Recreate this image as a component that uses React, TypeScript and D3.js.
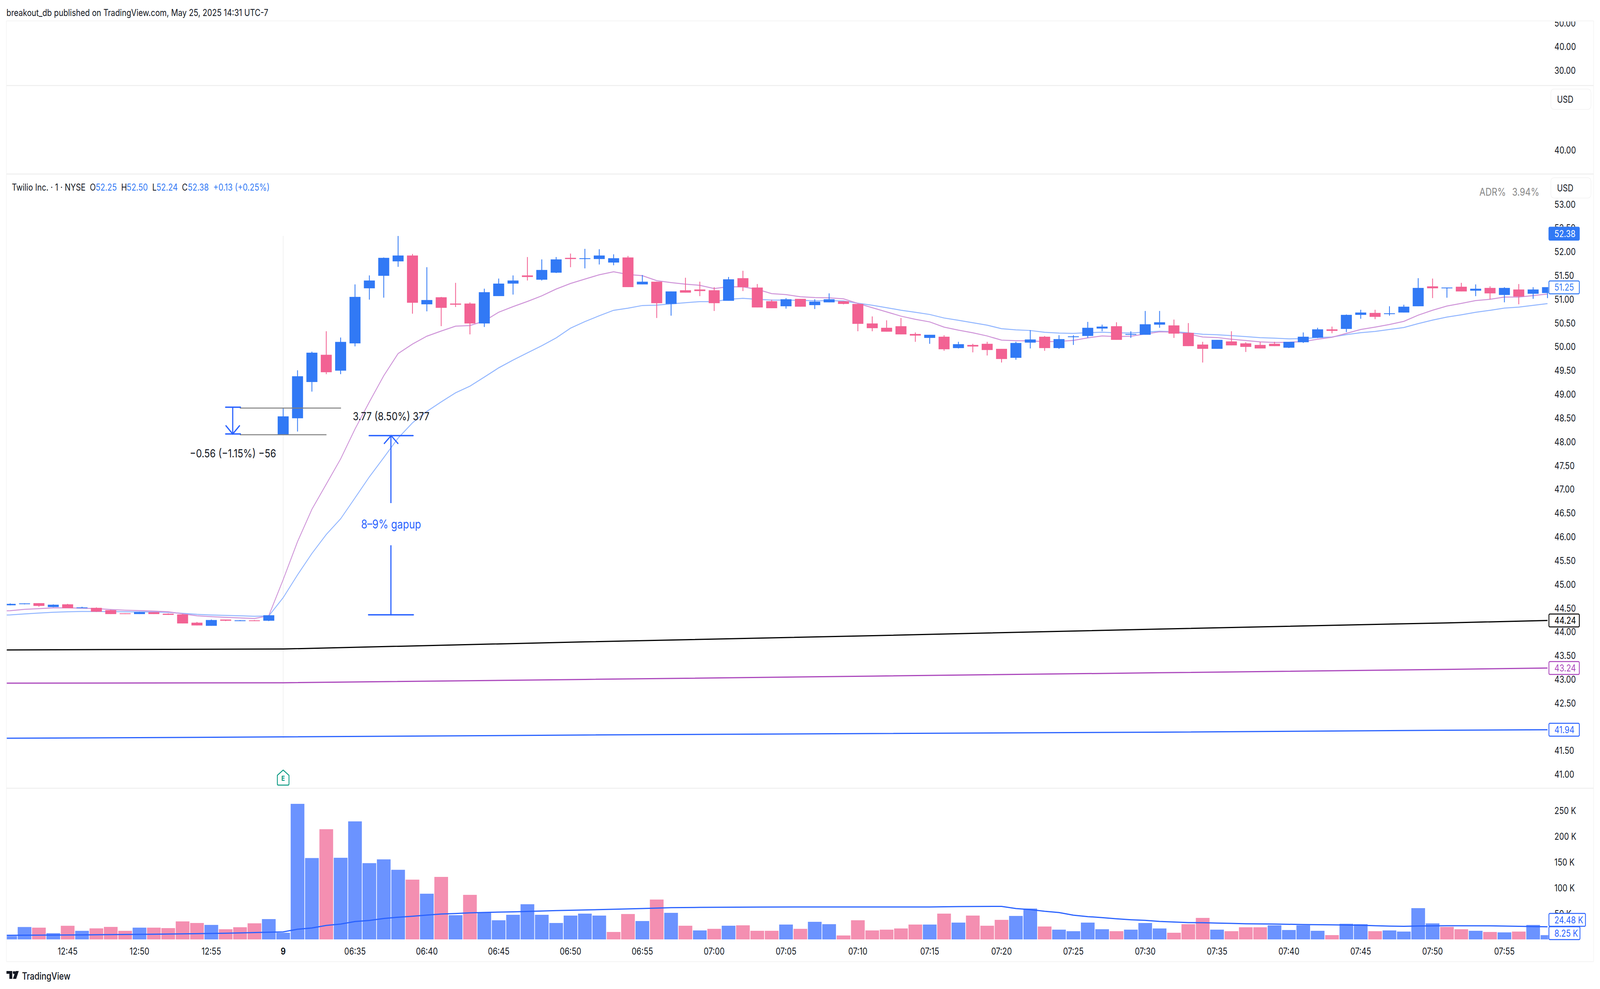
import React from 'react';
import * as d3 from 'd3';

// candles, left to right, one per minute
const opens = [44.56,44.59,44.605,44.523,44.58,44.5,44.506,44.457,44.391,44.375,44.416,44.383,44.367,44.194,44.128,44.26,44.227,44.243,44.235,48.151,48.496,49.259,49.832,49.498,50.072,51.231,51.494,51.798,51.921,50.894,51.042,50.91,50.91,50.491,51.067,51.33,51.502,51.412,51.56,51.872,51.847,51.847,51.773,51.88,51.313,51.37,50.902,51.19,51.206,51.19,50.968,51.444,51.247,50.959,50.853,51.009,50.877,50.935,50.959,50.902,50.491,50.4,50.433,50.269,50.187,50.212,49.973,50.039,50.063,49.957,49.768,50.088,50.212,49.973,50.203,50.228,50.384,50.433,50.253,50.253,50.466,50.45,50.294,50.047,49.957,50.113,50.072,50.039,50.063,49.981,50.096,50.192,50.367,50.376,50.672,50.713,50.688,50.721,50.853,51.272,51.231,51.264,51.181,51.239,51.091,51.206,51.116,51.132];
const highs = [44.6,44.6,44.605,44.58,44.59,44.53,44.515,44.465,44.391,44.42,44.416,44.39,44.375,44.21,44.26,44.26,44.25,44.25,44.35,48.712,49.505,49.898,50.327,50.195,51.313,51.502,51.88,52.332,51.954,51.675,51.05,51.346,50.935,51.223,51.436,51.502,51.889,51.839,51.889,51.962,52.061,52.053,51.946,51.913,51.51,51.37,51.165,51.453,51.371,51.255,51.469,51.6,51.321,50.992,51.025,51.009,51.0,51.124,50.959,50.902,50.639,50.557,50.606,50.302,50.253,50.244,50.105,50.063,50.105,49.957,50.105,50.351,50.228,50.244,50.244,50.524,50.466,50.516,50.327,50.754,50.754,50.573,50.499,50.105,50.146,50.327,50.096,50.1,50.105,50.105,50.302,50.4,50.425,50.68,50.779,50.779,50.853,50.885,51.444,51.436,51.247,51.346,51.313,51.272,51.255,51.321,51.255,51.255];
const lows = [44.56,44.58,44.53,44.52,44.5,44.5,44.42,44.375,44.375,44.375,44.375,44.358,44.178,44.136,44.128,44.227,44.227,44.227,44.227,48.15,48.217,49.057,49.424,49.424,50.009,50.993,51.034,51.683,50.697,50.746,50.434,50.837,50.261,50.417,51.067,51.099,51.395,51.395,51.552,51.675,51.65,51.732,51.716,51.256,51.313,50.606,50.655,51.14,51.066,50.754,50.968,51.173,50.828,50.812,50.803,50.844,50.795,50.935,50.894,50.327,50.327,50.318,50.261,50.105,50.063,49.916,49.965,49.883,49.817,49.669,49.727,49.965,49.916,49.957,50.039,50.187,50.327,50.146,50.187,50.253,50.4,50.187,50.014,49.669,49.957,50.03,49.891,49.965,50.014,49.973,50.08,50.184,50.285,50.31,50.59,50.581,50.655,50.721,50.853,51.025,51.033,51.165,51.066,51.0,50.935,50.894,51.009,51.025];
const closes = [44.59,44.6,44.547,44.572,44.5,44.515,44.424,44.375,44.375,44.416,44.375,44.358,44.178,44.136,44.25,44.235,44.243,44.227,44.35,48.536,49.38,49.876,49.465,50.103,51.05,51.395,51.872,51.921,50.927,50.984,50.82,50.886,50.491,51.149,51.33,51.395,51.469,51.617,51.839,51.847,51.864,51.921,51.864,51.256,51.37,50.918,51.165,51.14,51.173,50.918,51.42,51.255,50.828,50.812,51.0,50.844,50.951,51.0,50.902,50.483,50.392,50.318,50.261,50.236,50.253,49.948,50.055,50.006,49.932,49.743,50.08,50.154,49.973,50.162,50.22,50.4,50.425,50.146,50.269,50.474,50.516,50.277,50.014,49.957,50.146,50.03,49.998,49.965,50.014,50.105,50.212,50.367,50.335,50.672,50.721,50.63,50.705,50.844,51.239,51.231,51.247,51.165,51.222,51.124,51.239,51.058,51.206,51.255];

// thousands of shares per bar
const volumes = [6.5,24,22.8,12,26.4,16.6,21.4,24.2,16.6,22.8,22.8,21.9,34.9,31.8,28.1,19.7,23.6,31.2,39.4,12.9,262.9,157.8,213.7,158.3,228.9,147.9,155.2,135,115.9,88.6,121.2,47,86.4,51.8,37.1,47.7,68.2,47.7,31.8,46.2,50,46.2,14.4,49.2,35.6,77.3,51.5,26.5,17.4,20.5,26.5,27.3,16.7,16.7,28.8,20.5,34.1,29.5,7.6,37.1,17.4,18.9,21.2,28.8,28.8,50,32.6,46.2,26.5,37.9,45.5,59.8,25,18.9,15.9,32.6,19.7,15.9,18.9,31.8,21.2,12.9,29.5,41.7,18.9,15.9,23.5,23.5,27.3,18.2,27.3,16.7,8.3,30.3,29.5,15.9,17.4,15.2,60.6,31.1,24.2,19.7,16.7,14.4,13.6,15.2,28,8.25];
// b = blue bar, p = pink bar
const volumeUp = 'bbpbpbpppbppppbpppbbbbpbbbbbpbpbpbbbbbbbbbppbpbpbpbpppbpbbppppppbpbpppbbpbbbbpbbbpppbpppbbbbpbbpbbbbppbpbpbb';

// moving averages on the price pane, first value sits one bar left of the first candle
const emaFast = [44.44,44.446,44.474,44.49,44.506,44.506,44.5,44.49,44.471,44.457,44.449,44.438,44.424,44.38,44.339,44.32,44.306,44.293,44.282,44.342,45.1,45.9,46.58,47.11,47.64,48.27,48.84,49.391,49.858,50.058,50.223,50.332,50.434,50.447,50.543,50.727,50.845,50.954,51.072,51.215,51.332,51.425,51.516,51.579,51.521,51.497,51.392,51.351,51.318,51.294,51.225,51.264,51.261,51.209,51.119,51.099,51.053,51.036,51.031,51.009,50.913,50.823,50.735,50.645,50.579,50.524,50.414,50.351,50.294,50.228,50.14,50.129,50.124,50.107,50.113,50.135,50.187,50.228,50.214,50.222,50.269,50.315,50.31,50.269,50.206,50.195,50.159,50.132,50.104,50.091,50.096,50.11,50.159,50.2,50.283,50.365,50.414,50.469,50.535,50.666,50.77,50.858,50.913,50.973,51.0,51.047,51.047,51.077,51.11];
const emaSlow = [44.35,44.358,44.378,44.397,44.413,44.424,44.43,44.43,44.427,44.424,44.421,44.419,44.41,44.391,44.369,44.356,44.347,44.339,44.328,44.336,44.72,45.2,45.65,46.05,46.38,46.82,47.263,47.667,48.078,48.4,48.639,48.841,49.032,49.171,49.362,49.557,49.72,49.872,50.023,50.187,50.393,50.53,50.653,50.768,50.812,50.869,50.877,50.902,50.927,50.951,50.951,51.0,51.02,51.0,50.984,50.984,50.976,50.968,50.97,50.965,50.918,50.875,50.823,50.77,50.727,50.68,50.606,50.557,50.507,50.455,50.381,50.357,50.343,50.305,50.288,50.283,50.296,50.307,50.294,50.291,50.31,50.327,50.318,50.294,50.263,50.253,50.236,50.214,50.192,50.181,50.167,50.173,50.195,50.206,50.255,50.296,50.324,50.365,50.406,50.488,50.562,50.625,50.672,50.726,50.768,50.814,50.836,50.872,50.91];

// long averages, read at a few bars
const longIdx = [-1, 19, 40, 60, 80, 100, 107];
const longBlack = [43.62, 43.64, 43.79, 43.92, 44.06, 44.19, 44.24];
const longPurple = [42.92, 42.93, 43.0, 43.07, 43.14, 43.21, 43.24];
const longBlue = [41.76, 41.79, 41.83, 41.86, 41.89, 41.93, 41.94];

// volume average
const volMaIdx = [-1,5,10,15,19,20,21,22,23,24,25,26,27,28,29,30,31,32,33,35,38,41,44,46,48,52,56,60,64,66,69,70,71,72,73,74,75,76,77,78,79,80,81,82,83,84,85,86,88,90,92,94,95,96,97,98,100,103,107];
const volMa = [7.8,8.7,10,12,14.6,19.7,22.2,27,29.8,34.6,36.8,40.5,43,44.9,47.2,49.2,50.2,51.5,52.3,53.5,55.8,57.8,59.8,61.6,62.1,62.6,62.9,62.9,62.9,63.6,64.1,59.8,57.8,54.5,52,47,44.2,42.2,39.9,38.1,36.9,34.8,33.8,32.6,32.3,31.6,31.1,30.3,29.8,28.8,28.3,27.5,26.5,25.8,25.3,26,26.5,26.3,24.48];

const priceTicks = [53,52.5,52,51.5,51,50.5,50,49.5,49,48.5,48,47.5,47,46.5,46,45.5,45,44.5,44,43.5,43,42.5,42,41.5,41];
const volumeTicks = [250, 200, 150, 100, 50];
const timeLabels = ['12:45','12:50','12:55','9','06:35','06:40','06:45','06:50','06:55','07:00','07:05','07:10','07:15','07:20','07:25','07:30','07:35','07:40','07:45','07:50','07:55'];
const timeIdx = [4,9,14,19,24,29,34,39,44,49,54,59,64,69,74,79,84,89,94,99,104];

const W = 4950, H = 2532;
const FONT = 'Inter, "Noto Sans", sans-serif';
const BLUE = '#3179f5', PINK = '#f26293', VBLUE = '#6b93ff', VPINK = '#f48fb1', INK = '#131722', LINE = '#2962ff', SEP = '#eeeeee';

const x = d3.scaleLinear().domain([0, 107]).range([31.5, 4787.6]);
const y = d3.scaleLinear().domain([53, 41]).range([522.9, 1982.7]);
const yVol = d3.scaleLinear().domain([0, 250]).range([2405, 2075]);

const priceLine = d3.line<[number, number]>().x(d => x(d[0])).y(d => y(d[1]));
const volLine = d3.line<[number, number]>().x(d => x(d[0])).y(d => yVol(d[1]));
const zipIdx = (vals: number[]) => vals.map((v, i) => [i - 1, v] as [number, number]);
const zipWith = (idx: number[], vals: number[]) => vals.map((v, i) => [idx[i], v] as [number, number]);

const ValueBox = ({ cy, label, color, w = 94, fill = 'white', text }: any) => (
  <g>
    <rect x={4792} y={cy - 16.5} width={w} height={33} rx={3} fill={fill} stroke={color} strokeWidth={2.5} />
    <text x={4809} y={cy} dy="0.36em" fontSize={24} fill={text ?? color}>{label}</text>
  </g>
);

export default function App() {
  const bodyW = 34, volW = 42.4;
  const gapupX = x(26.5);
  return (
    // the window can be narrower than asked, so the drawing space is fitted to it
    <svg viewBox={`0 0 ${W} ${H}`} preserveAspectRatio="none" fontFamily={FONT}
      style={{ position: 'fixed', left: 0, top: 0, width: '100vw', height: '100vh', background: 'white' }}>
      <defs>
        <clipPath id="plot"><rect x={21} y={447} width={4769} height={2015} /></clipPath>
        <clipPath id="topAxis"><rect x={4790} y={55} width={140} height={160} /></clipPath>
      </defs>

      <text x={20} y={32} dy="0.36em" fontSize={24} fill={INK}>breakout_db published on TradingView.com, May 25, 2025 14:31 UTC-7</text>

      {/* pane frame */}
      <line x1={20} x2={20} y1={53} y2={2462} stroke="#f4f4f4" strokeWidth={2} />
      <line x1={4930} x2={4930} y1={53} y2={2462} stroke="#f4f4f4" strokeWidth={2} />
      <line x1={20} x2={4930} y1={53.5} y2={53.5} stroke="#f4f4f4" strokeWidth={2} />
      {[219, 445.5, 2018].map(v => <line key={v} x1={20} x2={4930} y1={v} y2={v} stroke={SEP} strokeWidth={2.5} />)}
      <line x1={20} x2={4930} y1={2462} y2={2462} stroke="#f4f4f4" strokeWidth={2} />

      {/* empty panes */}
      <g clipPath="url(#topAxis)" fontSize={24} fill={INK}>
        <text x={4809} y={59.7} dy="0.36em">50.00</text>
        <text x={4809} y={119.4} dy="0.36em">40.00</text>
        <text x={4809} y={180} dy="0.36em">30.00</text>
      </g>
      <text x={4809} y={384} dy="0.36em" fontSize={24} fill={INK}>40.00</text>
      {[228, 455].map(t => (
        <g key={t}>
          <rect x={4798} y={t} width={124} height={52} rx={9} fill="white" stroke="#f2f2f2" strokeWidth={1.5} />
          <text x={4817} y={t + 26} dy="0.36em" fontSize={24} fill={INK}>USD</text>
        </g>
      ))}

      {/* legend */}
      <g fontSize={24} dominantBaseline="central">
        <text x={36.5} y={479} fill={INK}>Twilio Inc. · 1 · NYSE</text>
        <text x={278} y={479} fill={INK}>O</text><text x={296} y={479} fill={BLUE}>52.25</text>
        <text x={375} y={479} fill={INK}>H</text><text x={392} y={479} fill={BLUE}>52.50</text>
        <text x={471} y={479} fill={INK}>L</text><text x={484} y={479} fill={BLUE}>52.24</text>
        <text x={563} y={479} fill={INK}>C</text><text x={581} y={479} fill={BLUE}>52.38</text>
        <text x={660} y={479} fill={BLUE}>+0.13 (+0.25%)</text>
      </g>
      <text x={4577} y={491} dy="0.36em" fontSize={27} fill="#888888">ADR%</text>
      <text x={4678} y={491} dy="0.36em" fontSize={27} fill="#888888">3.94%</text>

      {/* session break */}
      <line x1={x(19)} x2={x(19)} y1={604} y2={1890} stroke="#efefef" strokeWidth={2} />

      <g clipPath="url(#plot)">
        {/* long averages */}
        <path d={priceLine(zipWith(longIdx, longBlack))!} fill="none" stroke="#000000" strokeWidth={3} />
        <path d={priceLine(zipWith(longIdx, longPurple))!} fill="none" stroke="#ab47bc" strokeWidth={3} />
        <path d={priceLine(zipWith(longIdx, longBlue))!} fill="none" stroke={LINE} strokeWidth={3} />
        <path d={priceLine(zipIdx(emaSlow))!} fill="none" stroke="#90b5ff" strokeWidth={2.5} />
        <path d={priceLine(zipIdx(emaFast))!} fill="none" stroke="#ce93d8" strokeWidth={2.5} />

        {/* candles */}
        {closes.map((c, i) => {
          const up = c >= opens[i];
          const col = up ? BLUE : PINK;
          const top = y(Math.max(c, opens[i]));
          const bot = y(Math.min(c, opens[i]));
          return (
            <g key={i}>
              <line x1={x(i)} x2={x(i)} y1={y(highs[i])} y2={y(lows[i])} stroke={col} strokeWidth={2.5} />
              <rect x={x(i) - bodyW / 2} y={top} width={bodyW} height={Math.max(bot - top, 2)} fill={col} />
            </g>
          );
        })}

        {/* volume */}
        {volumes.map((v, i) => (
          <rect key={i} x={x(i) - volW / 2} y={yVol(v)} width={volW} height={yVol(0) - yVol(v)}
            fill={volumeUp[i] === 'b' ? VBLUE : VPINK} />
        ))}
        <path d={volLine(zipWith(volMaIdx, volMa))!} fill="none" stroke={LINE} strokeWidth={3} />
      </g>

      {/* price axis */}
      <g fontSize={24} fill={INK}>
        {priceTicks.map(p => <text key={p} x={4809} y={y(p)} dy="0.36em">{p.toFixed(2)}</text>)}
      </g>
      <ValueBox cy={y(52.38)} label="52.38" color={BLUE} fill={BLUE} text="white" />
      <ValueBox cy={y(51.25)} label="51.25" color={BLUE} />
      <ValueBox cy={y(44.24)} label="44.24" color="#000000" />
      <ValueBox cy={y(43.24)} label="43.24" color="#ab47bc" />
      <ValueBox cy={y(41.94)} label="41.94" color={LINE} />

      {/* volume axis */}
      <g fontSize={24} fill={INK}>
        {volumeTicks.map(v => <text key={v} x={4809} y={yVol(v)} dy="0.36em">{v} K</text>)}
      </g>
      <ValueBox cy={2355} label="24.48 K" color={LINE} w={113} />
      <ValueBox cy={2389} label="8.25 K" color={LINE} w={96} />

      {/* time axis */}
      <g fontSize={24} fill={INK} textAnchor="middle">
        {timeLabels.map((t, i) => (
          <text key={t} x={x(timeIdx[i])} y={2435.5} dy="0.36em" fontWeight={t === '9' ? 700 : 400}>{t}</text>
        ))}
      </g>

      {/* earnings flag */}
      <g>
        <path d={`M${x(19)} 1971.5 L${x(19) + 18} 1985 V2007 Q${x(19) + 18} 2010 ${x(19) + 15} 2010 H${x(19) - 15} Q${x(19) - 18} 2010 ${x(19) - 18} 2007 V1985 Z`}
          fill="white" stroke="#089981" strokeWidth={2.5} strokeLinejoin="round" />
        <text x={x(19)} y={1993} dy="0.36em" textAnchor="middle" fontSize={18} fontWeight={700} fill="#089981">E</text>
      </g>

      {/* first measure */}
      <g stroke="#808080" strokeWidth={2.5}>
        <line x1={742} x2={1055} y1={y(48.71)} y2={y(48.71)} />
        <line x1={742} x2={1010} y1={y(48.15)} y2={y(48.15)} />
      </g>
      <g stroke={LINE} strokeWidth={3.5} fill="none" strokeLinecap="round">
        <line x1={698} x2={744} y1={1042.6} y2={1042.6} />
        <line x1={698} x2={744} y1={1111} y2={1111} />
        <line x1={720} x2={720} y1={1042.6} y2={1111} />
        <path d="M699 1090 L720 1111 L741 1090" />
      </g>
      <text x={720.7} y={1160.4} dy="0.36em" textAnchor="middle" fontSize={29} fill={INK}>−0.56 (−1.15%) −56</text>

      {/* second measure */}
      <g stroke={LINE} strokeWidth={3.5} fill="none" strokeLinecap="round">
        <line x1={1142} x2={1278} y1={y(48.13)} y2={y(48.13)} />
        <line x1={1140} x2={1279} y1={y(44.36)} y2={y(44.36)} />
        <line x1={gapupX} x2={gapupX} y1={y(48.13)} y2={y(44.36)} />
        <path d={`M1189 ${y(48.13) + 20} L1210 ${y(48.13)} L1231 ${y(48.13) + 20}`} />
      </g>
      <rect x={1110} y={1288} width={200} height={108} fill="white" />
      <text x={1210} y={1342} dy="0.36em" textAnchor="middle" fontSize={31} fill={LINE}>8–9% gapup</text>
      <text x={1210} y={1066} dy="0.36em" textAnchor="middle" fontSize={29} fill={INK}>3.77 (8.50%) 377</text>

      {/* brand */}
      <g fill="#131722">
        <path d="M20 2486 H38 V2506 H29 V2493 H20 Z" />
        <circle cx={43.5} cy={2490} r={3.8} />
        <path d="M48 2486 H58 L50 2506 H40 Z" />
      </g>
      <text x={68} y={2498.6} dy="0.36em" fontSize={25} fontWeight={500} fill="#131722">TradingView</text>
    </svg>
  );
}
